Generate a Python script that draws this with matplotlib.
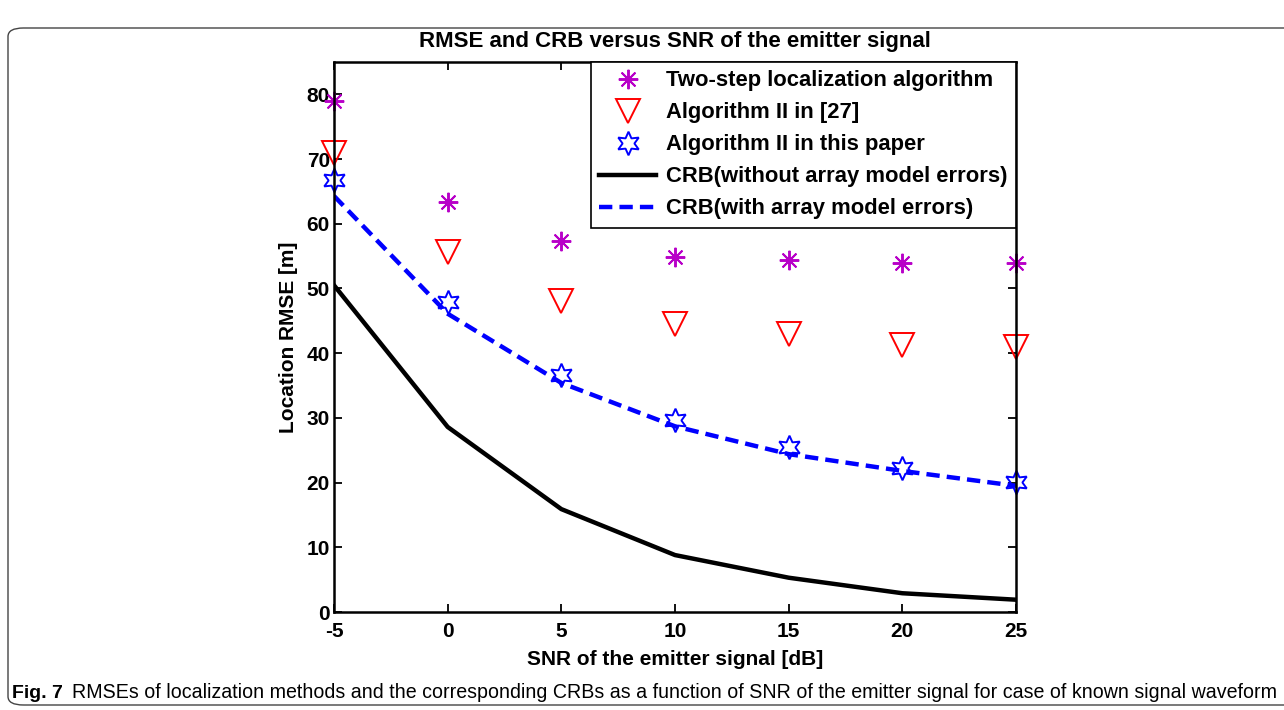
import numpy as np
import matplotlib
matplotlib.use('Agg')
import matplotlib.pyplot as plt
from matplotlib.patches import FancyBboxPatch

plt.rcParams['font.family'] = ['Liberation Sans', 'DejaVu Sans']

snr = [-5, 0, 5, 10, 15, 20, 25]

rmse_two_step = [79.0, 63.3, 57.3, 54.8, 54.4, 53.9, 53.9]
rmse_ref27 = [70.9, 55.6, 48.1, 44.5, 43.0, 41.3, 41.0]
rmse_this = [66.8, 47.9, 36.6, 29.7, 25.5, 22.3, 20.1]
crb_with_err = [64.3, 46.1, 35.4, 28.7, 24.4, 21.8, 19.5]
crb_no_err = [50.5, 28.6, 15.9, 8.8, 5.3, 2.9, 1.9]

xticks = [-5, 0, 5, 10, 15, 20, 25]
yticks = [0, 10, 20, 30, 40, 50, 60, 70, 80]

fig = plt.figure(figsize=(12.84, 7.10), dpi=100)

# rounded frame around figure + caption
frame = FancyBboxPatch((8 / 1284, 5 / 710), 1300 / 1284, 677 / 710,
                       boxstyle='round,pad=0,rounding_size=0.012',
                       transform=fig.transFigure, facecolor='none',
                       edgecolor='#444444', linewidth=1.0, clip_on=False)
fig.patches.append(frame)

ax = fig.add_axes([334 / 1284, 1 - 612 / 710, 682 / 1284, 550 / 710])

ax.plot(snr, crb_no_err, color='black', lw=3.2, label='CRB(without array model errors)')
ax.plot(snr, crb_with_err, color='blue', lw=3.2, ls=(0, (3, 1.6)),
        label='CRB(with array model errors)')
ax.plot(snr, rmse_two_step, ls='none', marker=(8, 2, 0), ms=14, mew=1.4,
        color='#b800c8', label='Two-step localization algorithm', clip_on=False)
ax.plot(snr, rmse_ref27, ls='none', marker='v', ms=17, mew=1.4,
        mfc='none', mec='red', label='Algorithm II in [27]', clip_on=False)
ax.plot(snr, rmse_this, ls='none', marker=(6, 1, 0), ms=17, mew=1.4,
        mfc='none', mec='blue', label='Algorithm II in this paper', clip_on=False)

ax.set_xlim(-5, 25)
ax.set_ylim(0, 85)
ax.set_xticks(xticks)
ax.set_yticks(yticks)
ax.set_xticklabels([str(t) for t in xticks], fontsize=15, fontweight='bold')
ax.set_yticklabels([str(t) for t in yticks], fontsize=15, fontweight='bold')
ax.tick_params(axis='x', pad=7)
ax.tick_params(axis='y', pad=3)
ax.tick_params(direction='in', top=True, right=True, length=6, width=1.3)
for s in ax.spines.values():
    s.set_linewidth(1.8)

ax.set_xlabel('SNR of the emitter signal [dB]', fontsize=15, fontweight='bold', labelpad=7)
ax.set_ylabel('Location RMSE [m]', fontsize=15, fontweight='bold', labelpad=6)
ax.set_title('RMSE and CRB versus SNR of the emitter signal', fontsize=16,
             fontweight='bold', pad=11)

handles, labels = ax.get_legend_handles_labels()
order = [2, 3, 4, 0, 1]
leg = ax.legend([handles[i] for i in order], [labels[i] for i in order],
                loc='upper right', bbox_to_anchor=(1.0, 1.0), borderaxespad=0,
                prop={'size': 15.8, 'weight': 'bold'}, handlelength=2.6,
                handletextpad=0.45, labelspacing=0.5, borderpad=0.38,
                fancybox=False, framealpha=1, edgecolor='black')
leg.get_frame().set_linewidth(1.2)

fig.text(12 / 1284, 1 - 693 / 710, 'Fig. 7', fontsize=14, fontweight='bold',
         va='center', ha='left')
fig.text(72 / 1284, 1 - 693 / 710,
         'RMSEs of localization methods and the corresponding CRBs as a function of SNR '
         'of the emitter signal for case of known signal waveform',
         fontsize=14.1, va='center', ha='left')

fig.savefig('out.png', dpi=100)
